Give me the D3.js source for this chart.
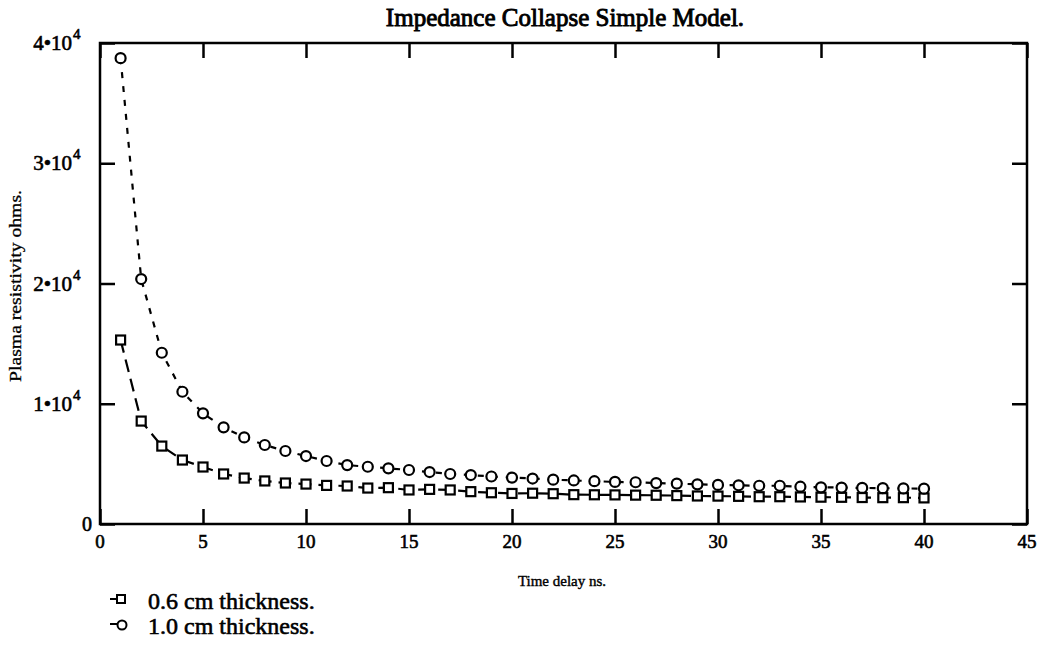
<!DOCTYPE html>
<html><head><meta charset="utf-8">
<script src="https://cdn.jsdelivr.net/npm/d3@7/dist/d3.min.js"></script>
<style>body{margin:0;background:#fff}svg{display:block}text{font-family:"Liberation Serif","Times New Roman",serif;fill:#000}</style>
</head><body><svg id="c" width="1045" height="649"></svg>
<script>
const timeDelay = d3.range(1, 41);
const thin06 = [15300,8560,6480,5320,4740,4160,3820,3580,3410,3320,3210,3160,2990,3020,2830,2880,2830,2690,2600,2540,2560,2520,2440,2430,2420,2400,2390,2360,2330,2320,2300,2270,2270,2250,2230,2220,2200,2190,2190,2170];
const thin10 = [38740,20370,14240,11000,9200,8040,7200,6570,6070,5650,5240,4900,4760,4630,4490,4320,4160,4070,3950,3860,3780,3690,3620,3560,3500,3470,3400,3360,3300,3250,3220,3180,3180,3100,3050,3030,3000,2980,2960,2940];
const xTicks = [0,5,10,15,20,25,30,35,40,45];
const yTicks = [0,1,2,3,4];
const title = "Impedance Collapse Simple Model.";
const xLabel = "Time delay ns.";
const yLabel = "Plasma resistivity ohms.";
const legendLabels = ["0.6 cm thickness.","1.0 cm thickness."];

const svg = d3.select("#c");
const L=100,R=1027,T=43,B=524;
const x = d3.scaleLinear().domain([0,45]).range([L,R]);
const y = d3.scaleLinear().domain([0,40000]).range([B,T]);

const heavy = (sel,w) => sel.attr("stroke","#000").attr("stroke-width",w||0.6);

heavy(svg.append("text").attr("x",565).attr("y",26).attr("text-anchor","middle").attr("font-size",25).text(title),0.9);

// frame
svg.append("rect").attr("x",L).attr("y",T).attr("width",R-L).attr("height",B-T).attr("fill","none").attr("stroke","#000").attr("stroke-width",2.5);

// axes
const tl=15;
const gb = svg.append("g").attr("transform",`translate(0,${B})`).call(d3.axisBottom(x).tickValues(xTicks).tickSize(-tl).tickFormat(""));
const gt = svg.append("g").attr("transform",`translate(0,${T})`).call(d3.axisTop(x).tickValues(xTicks).tickSize(-tl).tickFormat(""));
const gl = svg.append("g").attr("transform",`translate(${L},0)`).call(d3.axisLeft(y).tickValues(yTicks.map(v=>v*1e4)).tickSize(-tl).tickFormat(""));
const gr = svg.append("g").attr("transform",`translate(${R},0)`).call(d3.axisRight(y).tickValues(yTicks.map(v=>v*1e4)).tickSize(-tl).tickFormat(""));
[gb,gt,gl,gr].forEach(g=>{g.select(".domain").remove();g.selectAll("line").attr("stroke","#000").attr("stroke-width",2.5);});

// x tick labels
heavy(svg.selectAll(".xt").data(xTicks).enter().append("text").attr("x",d=>x(d)).attr("y",B+24).attr("text-anchor","middle").attr("font-size",19).text(d=>d));
// y tick labels
yTicks.forEach(v=>{
  if(v===0){
    heavy(svg.append("text").attr("x",92).attr("y",y(0)+7).attr("text-anchor","end").attr("font-size",20).text("0"));
  } else {
    heavy(svg.append("text").attr("x",72).attr("y",y(v*1e4)+7).attr("text-anchor","end").attr("font-size",21).text(v+"•10"));
    heavy(svg.append("text").attr("x",73).attr("y",y(v*1e4)-4).attr("font-size",15).text("4"));
  }
});

heavy(svg.append("text").attr("x",562).attr("y",586).attr("text-anchor","middle").attr("font-size",15).text(xLabel),0.4);
heavy(svg.append("text").attr("transform","translate(21,286) rotate(-90)").attr("text-anchor","middle").attr("font-size",17).attr("textLength",192).attr("lengthAdjust","spacingAndGlyphs").text(yLabel),0.3);

// lines
const line = d3.line().x((d,i)=>x(timeDelay[i])).y(d=>y(d));
svg.append("path").datum(thin06).attr("d",line).attr("fill","none").attr("stroke","#000").attr("stroke-width",2.2).attr("stroke-dasharray","13,7");
svg.append("path").datum(thin10).attr("d",line).attr("fill","none").attr("stroke","#000").attr("stroke-width",2.2).attr("stroke-dasharray","6,8");

const ms=9;
svg.selectAll(".sq").data(thin06).enter().append("rect").attr("x",(d,i)=>x(timeDelay[i])-ms/2).attr("y",d=>y(d)-ms/2).attr("width",ms).attr("height",ms).attr("fill","#fff").attr("stroke","#000").attr("stroke-width",2.2);
svg.selectAll(".ci").data(thin10).enter().append("circle").attr("cx",(d,i)=>x(timeDelay[i])).attr("cy",d=>y(d)).attr("r",ms/2+0.5).attr("fill","#fff").attr("stroke","#000").attr("stroke-width",2.2);

// legend
legendLabels.forEach((lab,i)=>{
  const cy = 599 + i*25;
  svg.append("line").attr("x1",110).attr("x2",117).attr("y1",cy).attr("y2",cy).attr("stroke","#000").attr("stroke-width",2);
  if(i===0) svg.append("rect").attr("x",117).attr("y",cy-4).attr("width",8).attr("height",8).attr("fill","#fff").attr("stroke","#000").attr("stroke-width",2);
  else svg.append("circle").attr("cx",122).attr("cy",cy+1).attr("r",4.5).attr("fill","#fff").attr("stroke","#000").attr("stroke-width",2);
  heavy(svg.append("text").attr("x",148).attr("y",cy+10).attr("font-size",24).text(lab));
});
</script></body></html>
